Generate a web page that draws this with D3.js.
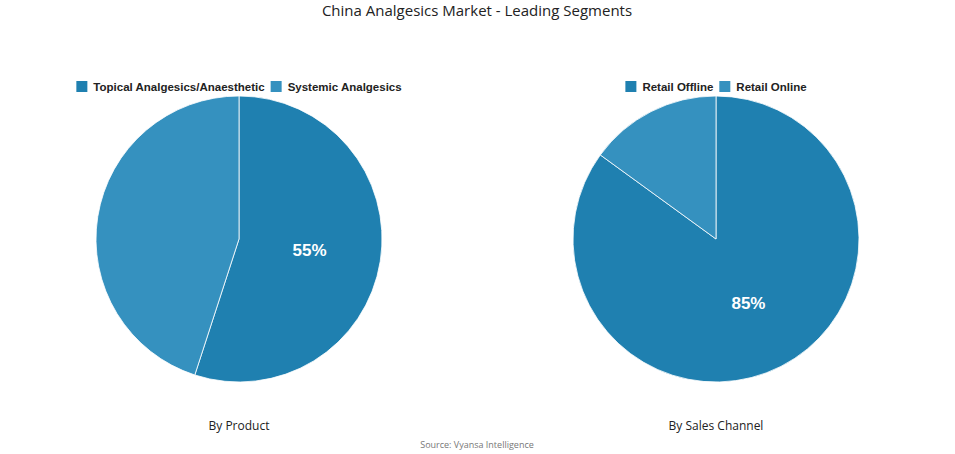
<!DOCTYPE html>
<html>
<head>
<meta charset="UTF-8">
<script src="https://d3js.org/d3.v7.min.js"></script>
<style>
    body { margin: 0; background: #fff; }
    text { font-family: "Open Sans", sans-serif; }
</style>
</head>
<body>
<svg id="chart" width="955" height="454"></svg>
<script>
    var productLabels = ['Topical Analgesics/Anaesthetic', 'Systemic Analgesics'];
    var productValues = [55, 45];
    var channelLabels = ['Retail Offline', 'Retail Online'];
    var channelValues = [85, 15];
    var colors = ['#1f80b0', '#3591bf'];

    var svg = d3.select('#chart');
    var radius = 143;

    svg.append('text').attr('x', 477).attr('y', 16).attr('text-anchor', 'middle')
        .attr('font-size', 15).attr('fill', '#222').text('China Analgesics Market - Leading Segments');

    svg.append('text').attr('x', 477).attr('y', 448).attr('text-anchor', 'middle')
        .attr('font-size', 9).attr('fill', '#777').text('Source: Vyansa Intelligence');

    function drawPie(cx, labels, values, caption) {
        var g = svg.append('g').attr('transform', 'translate(' + cx + ',239)');
        var pie = d3.pie().sort(null)(values);
        var arc = d3.arc().innerRadius(0).outerRadius(radius);
        var labelArc = d3.arc().innerRadius(radius * 0.5).outerRadius(radius * 0.5);

        g.selectAll('path').data(pie).enter().append('path')
            .attr('d', arc)
            .attr('fill', function (d, i) { return colors[i]; })
            .attr('stroke', '#fff').attr('stroke-width', 0.8);

        g.append('text')
            .attr('transform', 'translate(' + labelArc.centroid(pie[0]) + ')')
            .attr('text-anchor', 'middle').attr('dy', '0.35em')
            .attr('font-size', 17).attr('font-weight', 'bold').attr('fill', '#fff')
            .style('font-family', '"Liberation Sans", Arial, sans-serif')
            .text(values[0] + '%');

        // legend, centred above pie
        var lg = svg.append('g');
        var x = 0;
        labels.forEach(function (l, i) {
            var item = lg.append('g').attr('transform', 'translate(' + x + ',0)');
            item.append('rect').attr('x', 0).attr('y', 81).attr('width', 11).attr('height', 11)
                .attr('fill', colors[i]);
            var t = item.append('text').attr('x', 17).attr('y', 91)
                .attr('font-size', 11.5).attr('font-weight', 'bold').attr('fill', '#222')
                .style('font-family', '"Liberation Sans", Arial, sans-serif').text(l);
            x += 17 + t.node().getComputedTextLength() + 6;
        });
        var w = x - 6;
        lg.attr('transform', 'translate(' + (cx - w / 2) + ',0)');

        svg.append('text').attr('x', cx).attr('y', 430).attr('text-anchor', 'middle')
            .attr('font-size', 12).attr('fill', '#222').text(caption);
    }

    drawPie(239, productLabels, productValues, 'By Product');
    drawPie(716, channelLabels, channelValues, 'By Sales Channel');
</script>
</body>
</html>
